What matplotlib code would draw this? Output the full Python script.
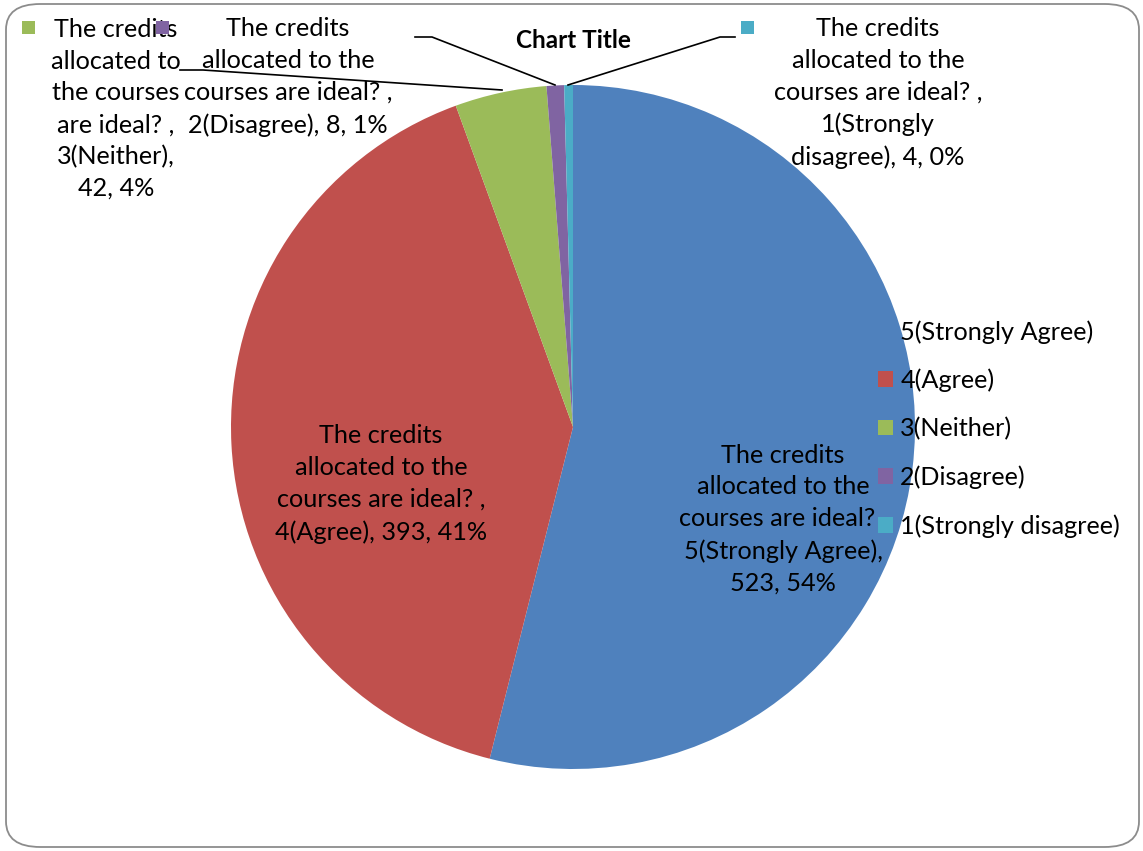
import matplotlib
matplotlib.use("Agg")
import matplotlib.pyplot as plt
from matplotlib.patches import FancyBboxPatch, Rectangle

# ---- data ----
categories = ["5(Strongly Agree)", "4(Agree)", "3(Neither)", "2(Disagree)", "1(Strongly disagree)"]
values = [523, 393, 42, 8, 4]
percents = ["54%", "41%", "4%", "1%", "0%"]
colors = ["#4F81BD", "#C0504D", "#9BBB59", "#8064A2", "#4BACC6"]
title = "Chart Title"

W, H = 1143, 851
FONT = "Lato"
FS = 18.2

def Y(py):
    return H - py

fig = plt.figure(figsize=(W / 100, H / 100), dpi=100)
ax = fig.add_axes([0, 0, 1, 1])

wedges, _ = ax.pie(values, colors=colors, startangle=90, counterclock=False,
                   center=(573, Y(427)), radius=342,
                   wedgeprops=dict(linewidth=0))
ax.set_xlim(0, W)
ax.set_ylim(0, H)
ax.set_aspect("equal")
ax.axis("off")

# border
fig.patches.append(FancyBboxPatch((6 / W, 4 / H), (W - 10) / W, (H - 8) / H,
                                  boxstyle="round,pad=0,rounding_size=0.03",
                                  transform=fig.transFigure, facecolor="none",
                                  edgecolor="#8c8c8c", linewidth=1.3))

ax.text(573, Y(40), title, ha="center", va="center", fontsize=17.5,
        fontweight="bold", family=FONT)

txt = dict(ha="center", va="center", fontsize=FS, family=FONT, linespacing=1.46, color="black")

# data labels
labels = [
    f"The credits\nallocated to the\ncourses are ideal? ,\n{categories[0]},\n{values[0]}, {percents[0]}",
    f"The credits\nallocated to the\ncourses are ideal? ,\n{categories[1]}, {values[1]}, {percents[1]}",
    f"The credits\nallocated to\nthe courses\nare ideal? ,\n{categories[2]},\n{values[2]}, {percents[2]}",
    f"The credits\nallocated to the\ncourses are ideal? ,\n{categories[3]}, {values[3]}, {percents[3]}",
    f"The credits\nallocated to the\ncourses are ideal? ,\n1(Strongly\ndisagree), {values[4]}, {percents[4]}",
]
label_pos = [(783, 519), (381, 484), (116, 109), (288, 77), (878, 93)]
for lab, (x, y) in zip(labels, label_pos):
    ax.text(x, Y(y), lab, **txt)

# leader lines
leaders = [
    ([180, 203, 502], [70, 70, 90]),      # 3(Neither)
    ([415, 432, 555], [37, 37, 85]),      # 2(Disagree)
    ([735, 720, 568], [37, 37, 85]),      # 1(Strongly disagree)
]
for xs, ys in leaders:
    ax.plot(xs, [Y(v) for v in ys], color="black", linewidth=1.2, zorder=5)

# legend keys in data labels
for (kx, ky), c in zip([(22, 21), (156, 21), (741, 21)], colors[2:]):
    ax.add_patch(Rectangle((kx, Y(ky + 13)), 13, 13, facecolor=c, edgecolor="none", zorder=6))

# legend
leg = ax.legend(wedges, categories, loc="upper left", bbox_to_anchor=(878 / W, Y(320) / H),
                bbox_transform=fig.transFigure, frameon=False,
                prop={"family": FONT, "size": FS}, handlelength=0.58, handleheight=0.58,
                handletextpad=0.3, labelspacing=0.99, borderaxespad=0, borderpad=0)

fig.savefig("out.png", dpi=100)
